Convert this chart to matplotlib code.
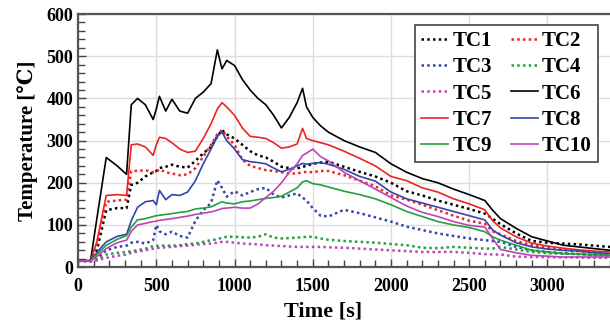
import numpy as np
import matplotlib
matplotlib.use('Agg')
import matplotlib.pyplot as plt
from matplotlib.ticker import MultipleLocator

plt.rcParams['font.family'] = ['Liberation Serif', 'DejaVu Serif']
plt.rcParams['font.weight'] = 'bold'

# time [s]
time = [0, 80, 120, 180, 250, 310, 340, 380, 430, 480, 500, 520, 560, 600, 650,
        700, 750, 800, 850, 890, 920, 950, 1000, 1050, 1100, 1150, 1200, 1250,
        1300, 1350, 1400, 1435, 1460, 1500, 1550, 1600, 1700, 1800, 1900, 2000,
        2100, 2200, 2300, 2400, 2500, 2600, 2650, 2700, 2800, 2900, 3000, 3100,
        3200, 3300, 3400]

tc1 = [15, 15, 40, 135, 140, 140, 195, 200, 215, 225, 228, 235, 238, 243, 238,
       236, 252, 270, 285, 310, 325, 315, 305, 290, 275, 265, 260, 250,
       238, 235, 234, 238, 240, 245, 248, 250, 238, 226, 215, 200,
       180, 170, 158, 148, 138, 127, 115, 102, 80, 62, 58, 56,
       54, 51, 48]
tc2 = [15, 15, 55, 155, 158, 160, 228, 228, 230, 225, 226, 232, 225, 222, 218,
       220, 235, 262, 290, 315, 325, 310, 290, 255, 240, 235, 230, 228,
       225, 222, 222, 225, 226, 225, 228, 228, 218, 205, 192, 170,
       160, 148, 135, 122, 110, 103, 85, 78, 62, 52, 46, 41,
       38, 35, 32]
tc3 = [15, 14, 20, 40, 48, 51, 58, 60, 56, 64, 100, 85, 78, 84, 74,
       70, 110, 135, 152, 206, 188, 167, 180, 170, 178, 185, 188, 172,
       165, 170, 175, 165, 158, 140, 122, 120, 136, 128, 118, 108,
       96, 88, 80, 74, 68, 64, 62, 60, 48, 40, 36, 33,
       31, 29, 28]
tc4 = [15, 14, 18, 30, 34, 36, 38, 40, 44, 50, 50, 51, 51, 51, 52,
       55, 56, 60, 64, 66, 70, 72, 72, 71, 70, 72, 78, 70,
       68, 69, 70, 71, 72, 72, 68, 65, 62, 60, 58, 55,
       52, 46, 45, 48, 46, 44, 44, 48, 42, 36, 33, 32,
       31, 29, 28]
tc5 = [15, 14, 16, 22, 27, 30, 34, 37, 40, 44, 45, 46, 47, 48, 50,
       51, 53, 55, 56, 58, 60, 60, 58, 56, 55, 54, 52, 51,
       50, 49, 48, 48, 48, 48, 48, 47, 46, 44, 42, 40,
       38, 36, 36, 36, 34, 31, 30, 30, 25, 24, 24, 23,
       23, 22, 22]
tc6 = [15, 16, 115, 260, 240, 220, 385, 400, 385, 350, 375, 405, 370, 398, 370,
       365, 400, 415, 435, 515, 470, 490, 478, 445, 420, 400, 385, 360,
       330, 355, 390, 424, 380, 355, 335, 320, 300, 285, 272, 245,
       225, 210, 200, 185, 172, 158, 135, 115, 92, 72, 62, 52,
       48, 44, 40]
tc7 = [15, 15, 60, 170, 172, 170, 290, 292, 285, 265, 290, 308, 305, 295, 280,
       272, 275, 305, 340, 375, 390, 380, 360, 330, 310, 308, 305, 295,
       282, 285, 292, 329, 305, 300, 295, 290, 275, 258, 240, 215,
       205, 188, 178, 162, 150, 136, 110, 93, 72, 57, 50, 45,
       41, 38, 36]
tc8 = [15, 15, 35, 60, 73, 78, 110, 142, 155, 158, 148, 182, 160, 172, 170,
       178, 205, 245, 280, 310, 320, 300, 280, 255, 250, 248, 245, 235,
       226, 232, 240, 246, 244, 246, 248, 244, 232, 215, 204, 178,
       162, 152, 142, 132, 122, 112, 88, 76, 58, 48, 43, 40,
       38, 34, 32]
tc9 = [15, 15, 30, 52, 66, 75, 95, 112, 115, 120, 122, 123, 125, 127, 130,
       132, 138, 140, 143, 150, 155, 152, 150, 155, 157, 160, 163, 165,
       168, 178, 188, 202, 205, 198, 195, 190, 180, 172, 162, 148,
       132, 120, 108, 100, 94, 84, 72, 64, 52, 40, 36, 32,
       31, 29, 28]
tc10 = [15, 15, 25, 44, 58, 64, 85, 100, 104, 108, 109, 111, 113, 115, 118,
        121, 125, 128, 131, 135, 139, 140, 142, 140, 140, 150, 165, 180,
        200, 225, 245, 265, 270, 280, 262, 252, 225, 205, 185, 165,
        145, 130, 120, 108, 99, 95, 68, 42, 34, 28, 26, 24,
        24, 24, 24]

series = [
    ('TC1', tc1, 'black', ':'),
    ('TC2', tc2, '#ee2222', ':'),
    ('TC3', tc3, '#3344aa', ':'),
    ('TC4', tc4, '#22a03a', ':'),
    ('TC5', tc5, '#bb44bb', ':'),
    ('TC6', tc6, 'black', '-'),
    ('TC7', tc7, '#ee2222', '-'),
    ('TC8', tc8, '#3344aa', '-'),
    ('TC9', tc9, '#22a03a', '-'),
    ('TC10', tc10, '#bb44bb', '-'),
]

fig = plt.figure(figsize=(6.1, 3.27), dpi=100)
ax = fig.add_axes([0.128, 0.183, 0.872, 0.774])

lines = []
for name, vals, color, ls in series:
    if ls == ':':
        ln, = ax.plot(time, vals, color=color, linestyle=(0, (1, 1.3)),
                      linewidth=1.8, label=name)
    else:
        ln, = ax.plot(time, vals, color=color, linestyle='-', linewidth=1.2,
                      label=name)
    lines.append(ln)

ax.set_xlim(0, 3400)
ax.set_ylim(0, 600)
ax.xaxis.set_major_locator(MultipleLocator(500))
ax.xaxis.set_minor_locator(MultipleLocator(100))
ax.yaxis.set_major_locator(MultipleLocator(100))
ax.yaxis.set_minor_locator(MultipleLocator(20))
ax.grid(True, which='major', color='#dddddd', linewidth=1.0)
ax.set_axisbelow(True)

ax.tick_params(which='both', direction='in', colors='#444444', labelcolor='black',
               labelsize=13)
ax.tick_params(which='major', length=6, width=1.0)
ax.tick_params(which='minor', length=5, width=1.0)
ax.tick_params(axis='x', pad=8)
for lab in ax.get_xticklabels() + ax.get_yticklabels():
    lab.set_fontweight('bold')

for side in ['left', 'bottom', 'top']:
    ax.spines[side].set_color('#555555')
    ax.spines[side].set_linewidth(1.6)
ax.spines['right'].set_visible(False)

ax.set_xlabel('Time [s]', fontsize=16, fontweight='bold')
ax.set_ylabel('Temperature [℃]', fontsize=15, fontweight='bold', labelpad=6)
ax.xaxis.set_label_coords(0.46, -0.135)

# legend filled row by row: TC1 TC2 / TC3 TC4 / ...
order = [0, 2, 4, 6, 8, 1, 3, 5, 7, 9]
leg = ax.legend([lines[i] for i in order], [series[i][0] for i in order],
                ncol=2, loc='upper right', bbox_to_anchor=(0.997, 0.998),
                fancybox=False, edgecolor='#444444', framealpha=1,
                handlelength=1.3, handletextpad=0.2, columnspacing=0.9,
                labelspacing=0.3, borderpad=0.3,
                prop={'family': ['Liberation Serif', 'DejaVu Serif'],
                      'weight': 'bold', 'size': 15})
leg.get_frame().set_linewidth(1.2)

fig.savefig('out.png', dpi=100)
